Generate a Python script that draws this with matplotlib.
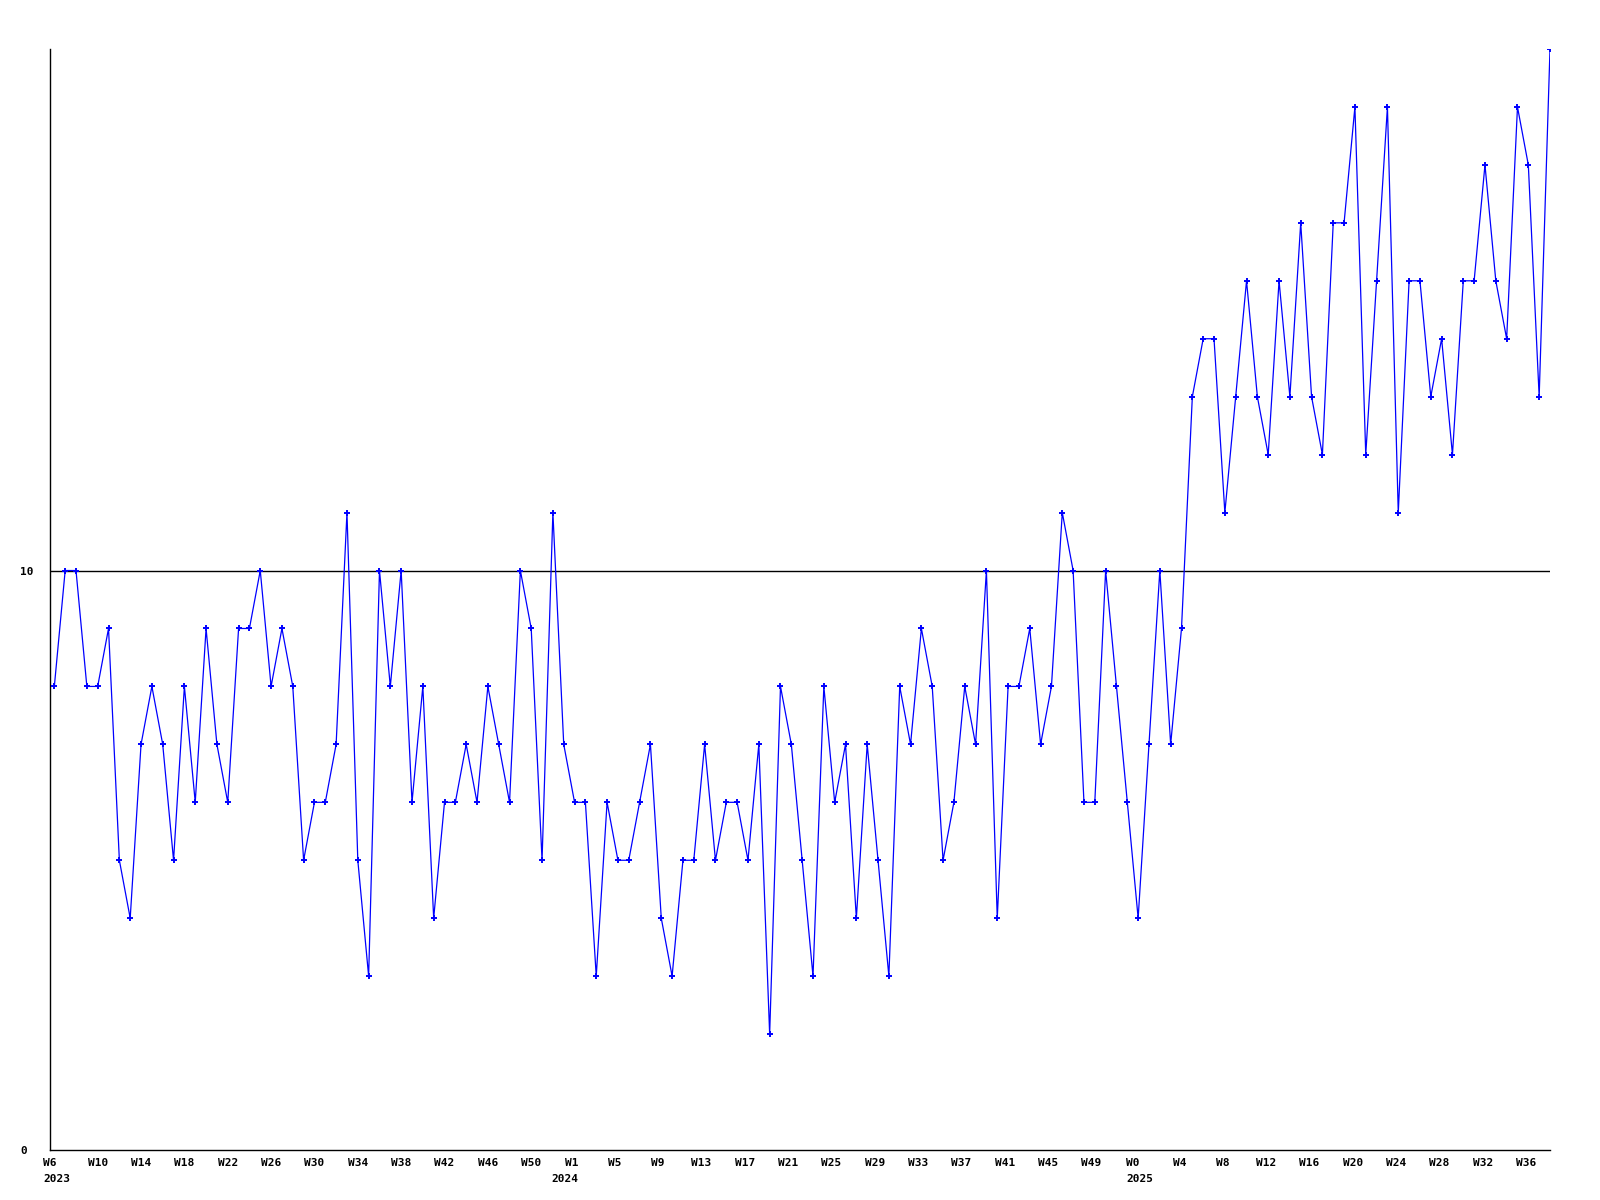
import matplotlib
matplotlib.use('Agg')
import matplotlib.pyplot as plt

# weekly values, 2023 W6 .. 2025 W38
values = [8, 10, 10, 8, 8, 9, 5, 4, 7, 8,
          7, 5, 8, 6, 9, 7, 6, 9, 9, 10,
          8, 9, 8, 5, 6, 6, 7, 11, 5, 3,
          10, 8, 10, 6, 8, 4, 6, 6, 7, 6,
          8, 7, 6, 10, 9, 5, 11, 7, 6, 6,
          3, 6, 5, 5, 6, 7, 4, 3, 5, 5,
          7, 5, 6, 6, 5, 7, 2, 8, 7, 5,
          3, 8, 6, 7, 4, 7, 5, 3, 8, 7,
          9, 8, 5, 6, 8, 7, 10, 4, 8, 8,
          9, 7, 8, 11, 10, 6, 6, 10, 8, 6,
          4, 7, 10, 7, 9, 13, 14, 14, 11, 13,
          15, 13, 12, 15, 13, 16, 13, 12, 16, 16,
          18, 12, 15, 18, 11, 15, 15, 13, 14, 12,
          15, 15, 17, 15, 14, 18, 17, 13, 19]
x = list(range(len(values)))

weeks_2023 = [6, 10, 14, 18, 22, 26, 30, 34, 38, 42, 46, 50]
weeks_2024 = [1, 5, 9, 13, 17, 21, 25, 29, 33, 37, 41, 45, 49]
weeks_2025 = [0, 4, 8, 12, 16, 20, 24, 28, 32, 36]
tick_labels = ["W%d" % w for w in weeks_2023 + weeks_2024 + weeks_2025]
tick_pos = ([-0.4, 4, 8, 12, 16, 20, 24, 28, 32, 36, 40, 44]
            + [47.7 + 4 * k for k in range(13)]
            + [99.5] + [103.8 + 4 * k for k in range(9)])
years = ["2023", "2024", "2025"]
year_pos = [-1.0, 45.9, 98.95]

ref_value = 10

fig = plt.figure(figsize=(16, 12), dpi=100)
ax = fig.add_axes([50 / 1600, 50 / 1200, 1500 / 1600, 1101 / 1200])

ax.axhline(ref_value, color='black', lw=1.0, zorder=1)
ax.plot(x, values, color='#0000ff', lw=0.9, marker='+', ms=3.8, mew=1.4, zorder=3)

ax.set_xlim(0, len(values) - 1)
ax.set_ylim(0, 19)

for s in ['top', 'right']:
    ax.spines[s].set_visible(False)
for s in ['left', 'bottom']:
    ax.spines[s].set_color('black')
    ax.spines[s].set_linewidth(1.0)

font = dict(family='DejaVu Sans Mono', weight='bold', size=8)

ax.set_yticks([0, 10])
ax.set_yticklabels(['0', '10'], ha='left', **font)
ax.tick_params(axis='y', length=0, pad=21.6)

ax.set_xticks(tick_pos)
ax.set_xticklabels(tick_labels, **font)
ax.tick_params(axis='x', length=0, pad=6.0)

for y, p in zip(years, year_pos):
    ax.annotate(y, xy=(p, 0), xycoords=('data', 'axes fraction'),
                xytext=(0, -20.9), textcoords='offset points',
                ha='left', va='center', annotation_clip=False, **font)

fig.savefig('out.png', dpi=100)
